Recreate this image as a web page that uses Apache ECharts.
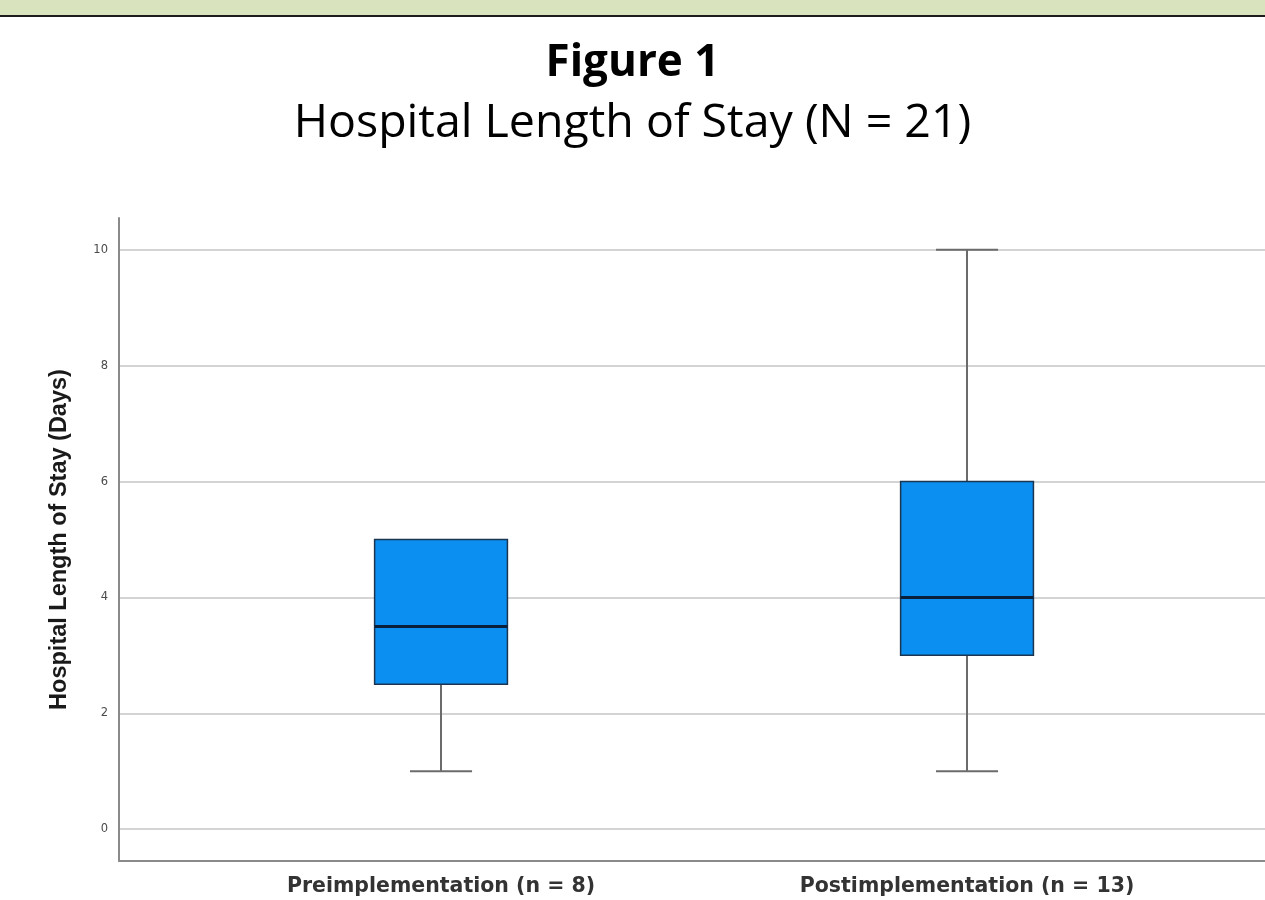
<!DOCTYPE html>
<html>
<head>
<meta charset="utf-8">
<title>Hospital Length of Stay</title>
<script src="https://cdn.jsdelivr.net/npm/echarts@6/dist/echarts.min.js"></script>
<style>
  html, body { margin: 0; padding: 0; background: #ffffff; }
  #chart { width: 1265px; height: 900px; }
</style>
</head>
<body>
<div id="chart"></div>
<script>
// Groups and their five-number summaries (days)
const groups = ['Preimplementation (n = 8)', 'Postimplementation (n = 13)'];
const minValues    = [1, 1];
const q1Values     = [2.5, 3];
const medianValues = [3.5, 4];
const q3Values     = [5, 6];
const maxValues    = [5, 10];
const yTicks = [0, 2, 4, 6, 8, 10];

const boxData = groups.map((g, i) => [i, minValues[i], q1Values[i], medianValues[i], q3Values[i], maxValues[i]]);

const chart = echarts.init(document.getElementById('chart'), null, { renderer: 'canvas' });

function renderBox(params, api) {
  const x = api.value(0);
  const vMin = api.value(1), vQ1 = api.value(2), vMed = api.value(3), vQ3 = api.value(4), vMax = api.value(5);
  const pMin = api.coord([x, vMin]);
  const pQ1 = api.coord([x, vQ1]);
  const pMed = api.coord([x, vMed]);
  const pQ3 = api.coord([x, vQ3]);
  const pMax = api.coord([x, vMax]);
  const boxW = api.size([0.2525, 0])[0];
  const capW = api.size([0.118, 0])[0];
  const cx = pMed[0];
  const whisker = { stroke: '#6b6b6b', lineWidth: 2 };
  const children = [];
  if (vMax > vQ3) {
    children.push({ type: 'line', shape: { x1: cx, y1: pMax[1], x2: cx, y2: pQ3[1] }, style: whisker });
    children.push({ type: 'line', shape: { x1: cx - capW / 2, y1: pMax[1], x2: cx + capW / 2, y2: pMax[1] }, style: whisker });
  }
  if (vMin < vQ1) {
    children.push({ type: 'line', shape: { x1: cx, y1: pQ1[1], x2: cx, y2: pMin[1] }, style: whisker });
    children.push({ type: 'line', shape: { x1: cx - capW / 2, y1: pMin[1], x2: cx + capW / 2, y2: pMin[1] }, style: whisker });
  }
  children.push({ type: 'rect', shape: { x: cx - boxW / 2, y: pQ3[1], width: boxW, height: pQ1[1] - pQ3[1] },
    style: { fill: '#0b8ff0', stroke: '#1b3550', lineWidth: 1.5 } });
  children.push({ type: 'line', shape: { x1: cx - boxW / 2, y1: pMed[1], x2: cx + boxW / 2, y2: pMed[1] },
    style: { stroke: '#0a1f3a', lineWidth: 3 } });
  return { type: 'group', children };
}

chart.setOption({
  animation: false,
  backgroundColor: '#ffffff',
  graphic: [
    { type: 'rect', left: 0, top: 0, shape: { width: 1265, height: 15 }, style: { fill: '#d9e4bf' }, silent: true },
    { type: 'rect', left: 0, top: 15, shape: { width: 1265, height: 2 }, style: { fill: '#1c1c1c' }, silent: true },
    { type: 'text', left: 'center', top: 41,
      style: { text: 'Figure 1', font: 'bold 44px "Open Sans", sans-serif', fill: '#000000' } },
    { type: 'text', left: 'center', top: 100,
      style: { text: 'Hospital Length of Stay (N = 21)', font: '46.5px "Open Sans", sans-serif', fill: '#000000' } }
  ],
  grid: { left: 119, right: 0, top: 218, bottom: 39, containLabel: false },
  xAxis: {
    type: 'value',
    min: -0.6122,
    max: 1.5665,
    axisLine: { show: true, onZero: false, lineStyle: { color: '#8a8a8a', width: 2 } },
    axisTick: { show: false, customValues: [0, 1] },
    splitLine: { show: false },
    axisLabel: {
      customValues: [0, 1],
      formatter: v => groups[Math.round(v)],
      margin: 15,
      fontFamily: '"DejaVu Sans", sans-serif',
      fontWeight: 'bold',
      fontSize: 20.5,
      color: '#333333'
    }
  },
  yAxis: {
    type: 'value',
    min: -0.55,
    max: 10.55,
    name: 'Hospital Length of Stay (Days)',
    nameLocation: 'middle',
    nameGap: 47,
    nameRotate: 90,
    nameTextStyle: { fontFamily: '"Liberation Sans", Arial, sans-serif', fontWeight: 'bold', fontSize: 23.5, color: '#1a1a1a' },
    axisLine: { show: true, onZero: false, lineStyle: { color: '#8a8a8a', width: 2 } },
    axisTick: { show: false, customValues: yTicks },
    axisLabel: {
      customValues: yTicks,
      margin: 11,
      fontFamily: '"DejaVu Sans", sans-serif',
      fontSize: 11.5,
      color: '#4a4a4a'
    },
    splitLine: { show: true, lineStyle: { color: '#d4d4d4', width: 2 } }
  },
  series: [{
    type: 'custom',
    renderItem: renderBox,
    encode: { x: 0, y: [1, 2, 3, 4, 5] },
    data: boxData,
    clip: false
  }]
});
</script>
</body>
</html>
